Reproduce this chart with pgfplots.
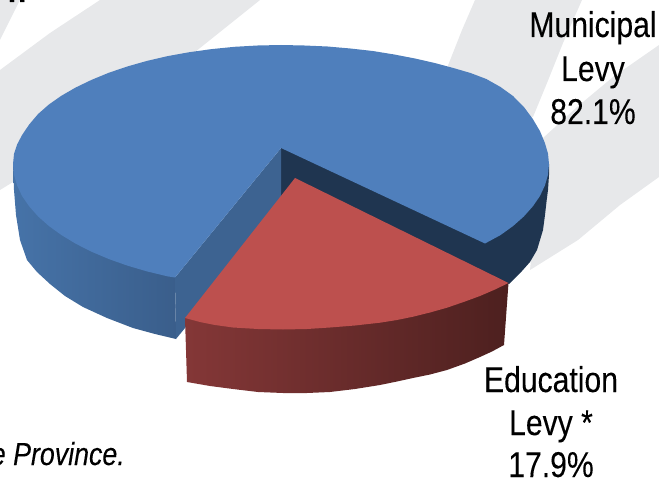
\documentclass[border=0pt]{standalone}
\usepackage{fontspec}
\usepackage{pgfplots}
\pgfplotsset{compat=1.18}
\setmainfont{Liberation Sans}
\newfontfamily\narrow[FakeStretch=0.84, FakeBold=0.12]{Liberation Sans}
\newfontfamily\narrowit[FakeStretch=0.82, FakeBold=0.1]{Liberation Sans}
\definecolor{Swoosh}{HTML}{E7E8EA}
\definecolor{BlueTop}{HTML}{4F7FBC}
\definecolor{BlueCut}{HTML}{3D6391}
\definecolor{BlueWallL}{HTML}{4673A8}
\definecolor{BlueWallR}{HTML}{3A5E8B}
\definecolor{Navy}{HTML}{1F3550}
\definecolor{RedTop}{HTML}{BD504E}
\definecolor{RedWallL}{HTML}{843737}
\definecolor{RedWallM}{HTML}{5A2525}
\definecolor{RedWallR}{HTML}{4D201F}
\tikzset{
    piece/.style={draw=none, line width=0pt},
    lab/.style={font=\narrow\fontsize{36}{36}\selectfont, anchor=base, inner sep=0pt}
}
\begin{document}
\begin{tikzpicture}
\begin{axis}[
    anchor=south west, at={(0,0)},
    width=659bp, height=481bp, scale only axis,
    xmin=0, xmax=659, ymin=0, ymax=481, y dir=reverse,
    axis lines=none, clip mode=global, no markers
]
% background swooshes
\addplot[piece, fill=Swoosh] coordinates {(0,0) (20,0) (0,40)};
\addplot[piece, fill=Swoosh] coordinates {(100,0) (260,0) (195,52) (13,182) (0,190) (0,70) (50,33)};
\addplot[piece, fill=Swoosh] coordinates {(475,0) (582,0) (563,43) (547,83) (533,117) (500,120) (447,68) (462,30)};
\addplot[piece, fill=Swoosh] coordinates {(659,45) (613,77) (577,107) (543,138) (530,270) (578,240) (620,205) (659,177)};
% navy cut face and right wall
\addplot[piece, fill=Navy] coordinates {(281,148) (549,164) (549,175) (548,190) (546.7,200) (545,215) (543,230) (537,250) (530,262) (522,271) (509,284) (295,200) (281,200)};
% blue outer wall
\addplot[piece, left color=BlueWallL, right color=BlueWallR] coordinates {(13,164) (14,190) (16,215) (20,240) (27,260) (37,272) (50,284) (65,296) (83,307) (107,318) (133,328) (155,334) (176,339) (175,270) (100,200)};
% blue inner face
\addplot[piece, fill=BlueCut] coordinates {(281,148) (175,277.5) (176,339) (281,211)};
% blue top
\addplot[piece, fill=BlueTop] coordinates {
    (281,148) (175,277.5) (167.7,276.4) (147,271.4) (127.3,265.6) (108.7,259) (91.5,251.7)
    (75.7,243.7) (61.5,235.1) (48.9,226) (38.1,216.4) (29.2,206.4) (22.1,196.1) (17.1,185.5) (14,174.8)
    (13,164) (14,154) (17.1,144.5) (22.1,135) (29.2,124.5) (38.1,114) (48.9,104.5) (61.5,95.7) (75.7,87.5)
    (91.5,79.9) (108.7,72.8) (127.3,66.5) (147,60.9) (167.7,56.1) (189.3,52.2) (211.6,49.1) (234.5,46.8) (257.6,45.5)
    (281,45) (304.4,45.5) (327.5,46.5) (350.4,48.5) (372.7,51) (394.3,54.5) (415,58.5) (434.7,63) (453.3,68)
    (470.5,73) (486.3,79) (500.5,87) (513,96) (523.9,107) (532.8,119) (539.9,131) (544.9,143) (548,153.6)
    (549,164) (548,174.8) (544.9,185.5) (539.9,196.1) (532.8,206.4) (523.9,216.4) (513.1,226) (500.5,235.1) (485,243.5)
};
% red wall
\addplot[piece, left color=RedWallL, middle color=RedWallM, right color=RedWallR] coordinates {
    (185,318) (187,382) (210,386) (233,389) (258,392) (283,393) (307,393) (330,392) (355,389) (380,385) (397,381.5)
    (413,378) (430,374.5) (447,370) (465,363.5) (480,357) (492,351.5) (504,345) (508.5,283) (400,300)
};
% red top
\addplot[piece, fill=RedTop] coordinates {
    (295,178) (185,318) (200,322) (215,325) (233,327.5) (258,329) (283,329.5) (307,329) (330,327.5) (355,325.5)
    (380,322.7) (397,320) (413,316.7) (430,312.5) (447,307.7) (465,301.5) (480,296) (495,289.5) (508.5,283)
};
% labels
\node[lab] at (axis cs:593,37) {Municipal};
\node[lab] at (axis cs:593,81) {Levy};
\node[lab] at (axis cs:593,124) {82.1\%};
\node[lab] at (axis cs:551,392) {Education};
\node[lab] at (axis cs:551,435) {Levy *};
\node[lab] at (axis cs:551,477) {17.9\%};
\node[overlay, anchor=base east, inner sep=0pt, font=\narrow\itshape\fontsize{32}{32}\selectfont] at (axis cs:125,465) {the Province.};
\node[overlay, anchor=base, inner sep=0pt, font=\narrow\bfseries\fontsize{36}{36}\selectfont] at (axis cs:17,2) {n};
\end{axis}
\end{tikzpicture}
\end{document}
